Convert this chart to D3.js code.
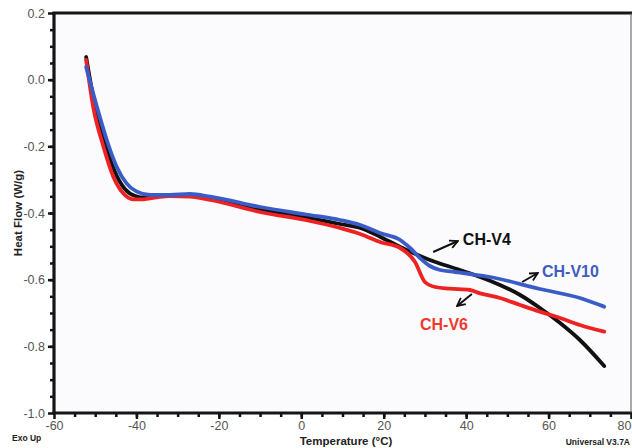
<!DOCTYPE html>
<html>
<head>
<meta charset="utf-8">
<script src="https://cdn.jsdelivr.net/npm/d3@7"></script>
<style>
  body { margin: 0; background: #fff; }
  svg { display: block; font-family: Arial, "Liberation Sans", sans-serif; }
</style>
</head>
<body>
<svg id="chart" width="632" height="448"></svg>
<script>
// temperatures (°C) and heat flow (W/g)
const tempV4 = [-52.2, -50.0, -47.6, -45.2, -42.8, -40.3, -37.9, -34.3, -31.9, -27.0, -22.0, -10.0, 2.1, 9.4, 14.3, 19.1, 24.0, 31.2, 38.5, 43.4, 48.2, 53.1, 57.9, 62.8, 67.6, 73.5];
const flowV4 = [0.068, -0.082, -0.190, -0.277, -0.328, -0.349, -0.354, -0.349, -0.346, -0.346, -0.355, -0.388, -0.415, -0.433, -0.445, -0.471, -0.502, -0.541, -0.571, -0.592, -0.616, -0.646, -0.685, -0.730, -0.781, -0.859];

const tempV6 = [-52.2, -50.5, -48.0, -45.6, -43.2, -40.8, -38.3, -35.1, -31.9, -27.0, -22.0, -10.0, 2.1, 9.4, 14.3, 19.1, 24.0, 27.6, 30.0, 32.5, 36.0, 40.9, 43.4, 48.2, 53.1, 57.9, 62.8, 67.6, 73.5];
const flowV6 = [0.059, -0.081, -0.201, -0.291, -0.341, -0.359, -0.359, -0.353, -0.349, -0.351, -0.361, -0.397, -0.424, -0.445, -0.463, -0.487, -0.505, -0.547, -0.607, -0.622, -0.627, -0.631, -0.641, -0.655, -0.676, -0.696, -0.715, -0.736, -0.756];

const tempV10 = [-52.2, -49.6, -47.2, -44.8, -42.4, -39.9, -36.7, -31.9, -27.0, -22.1, -10.0, 2.1, 9.4, 14.3, 19.1, 24.0, 26.4, 28.8, 31.2, 33.7, 37.3, 40.9, 45.8, 57.9, 67.6, 73.5];
const flowV10 = [0.038, -0.081, -0.181, -0.261, -0.311, -0.336, -0.346, -0.346, -0.343, -0.351, -0.382, -0.406, -0.421, -0.436, -0.460, -0.481, -0.505, -0.535, -0.559, -0.571, -0.577, -0.583, -0.592, -0.628, -0.655, -0.681];

const xTicks = [-60, -40, -20, 0, 20, 40, 60, 80];
const yTicks = [0.2, 0.0, -0.2, -0.4, -0.6, -0.8, -1.0];

// label text, text anchor point and arrow (tail -> head), in data units
const labelNames = ['CH-V4', 'CH-V10', 'CH-V6'];
const labelAt = [[39.2, -0.496], [58.4, -0.592], [28.8, -0.751]];
const arrowFrom = [[32.0, -0.517], [53.6, -0.607], [41.4, -0.643]];
const arrowTo = [[38.0, -0.484], [57.4, -0.580], [37.8, -0.679]];

const series = [
    {name: 'CH-V4', temp: tempV4, flow: flowV4, color: '#111111', text: '#111111'},
    {name: 'CH-V6', temp: tempV6, flow: flowV6, color: '#ee2222', text: '#ee3a2e'},
    {name: 'CH-V10', temp: tempV10, flow: flowV10, color: '#3a5cc8', text: '#3d5dbf'}
];
const drawOrder = ['CH-V4', 'CH-V6', 'CH-V10'];

const svg = d3.select('#chart');
const plot = {left: 54, right: 631, top: 13, bottom: 413};

const x = d3.scaleLinear().domain([-60, 80]).range([plot.left, plot.right]);
const y = d3.scaleLinear().domain([-1.0, 0.2]).range([plot.bottom, plot.top]);

svg.append('rect')
    .attr('x', plot.left).attr('y', plot.top)
    .attr('width', plot.right - plot.left).attr('height', plot.bottom - plot.top)
    .attr('fill', '#fbfbfd');

function styleAxis(g) {
    g.select('.domain').remove();
    g.selectAll('line').attr('stroke', '#111').attr('stroke-width', 2.5);
    g.selectAll('text').attr('fill', '#555').attr('font-size', 12.5)
        .attr('font-family', 'Arial, "Liberation Sans", sans-serif');
}

// minor ticks
svg.append('g')
    .attr('transform', `translate(0,${plot.bottom})`)
    .call(d3.axisBottom(x).tickValues(d3.range(-55, 80, 5)).tickSize(4).tickFormat(''))
    .call(styleAxis);

svg.append('g')
    .attr('transform', `translate(${plot.left},0)`)
    .call(d3.axisLeft(y).tickValues(d3.range(-19, 4).map(d => d * 0.05)).tickSize(4).tickFormat(''))
    .call(styleAxis);

// major ticks + labels
svg.append('g')
    .attr('transform', `translate(0,${plot.bottom})`)
    .call(d3.axisBottom(x).tickValues(xTicks).tickSize(6).tickPadding(2).tickFormat(d => String(d)))
    .call(styleAxis)
    .call(g => g.selectAll('.tick text').filter(d => d === 80).attr('text-anchor', 'end'));

svg.append('g')
    .attr('transform', `translate(${plot.left},0)`)
    .call(d3.axisLeft(y).tickValues(yTicks).tickSize(6).tickPadding(3).tickFormat(d => d.toFixed(1)))
    .call(styleAxis);

// frame
svg.append('path')
    .attr('d', `M${plot.left},${plot.bottom}V${plot.top}H${plot.right + 2}`)
    .attr('fill', 'none').attr('stroke', '#151515').attr('stroke-width', 3.2);
svg.append('line')
    .attr('x1', plot.left - 1.5).attr('x2', plot.right + 2)
    .attr('y1', plot.bottom).attr('y2', plot.bottom)
    .attr('stroke', '#151515').attr('stroke-width', 3.2);
svg.append('line')
    .attr('x1', plot.right).attr('x2', plot.right)
    .attr('y1', plot.top).attr('y2', plot.bottom)
    .attr('stroke', '#555').attr('stroke-width', 1);

// curves
const line = d3.line()
    .x(d => x(d[0]))
    .y(d => y(d[1]))
    .curve(d3.curveMonotoneX);

drawOrder.forEach(name => {
    const s = series.find(d => d.name === name);
    svg.append('path')
        .datum(d3.zip(s.temp, s.flow))
        .attr('fill', 'none')
        .attr('stroke', s.color)
        .attr('stroke-width', 3.8)
        .attr('stroke-linejoin', 'round')
        .attr('stroke-linecap', 'round')
        .attr('d', line);
});

// annotations
svg.append('defs').append('marker')
    .attr('id', 'head')
    .attr('viewBox', '0 0 10 10')
    .attr('refX', 9).attr('refY', 5)
    .attr('markerWidth', 5).attr('markerHeight', 5)
    .attr('markerUnits', 'strokeWidth')
    .attr('orient', 'auto')
  .append('path')
    .attr('d', 'M1,1L9,5L1,9')
    .attr('fill', 'none').attr('stroke', '#111').attr('stroke-width', 1.8);

labelNames.forEach((name, i) => {
    const s = series.find(d => d.name === name);
    svg.append('line')
        .attr('x1', x(arrowFrom[i][0])).attr('y1', y(arrowFrom[i][1]))
        .attr('x2', x(arrowTo[i][0])).attr('y2', y(arrowTo[i][1]))
        .attr('stroke', '#111').attr('stroke-width', 2)
        .attr('marker-end', 'url(#head)');
    svg.append('text')
        .attr('x', x(labelAt[i][0])).attr('y', y(labelAt[i][1]))
        .attr('fill', s.text)
        .attr('font-size', 16).attr('font-weight', 'bold')
        .text(name);
});

// axis titles
svg.append('text')
    .attr('transform', `translate(22,${(plot.top + plot.bottom) / 2}) rotate(-90)`)
    .attr('text-anchor', 'middle')
    .attr('font-size', 11.5).attr('font-weight', 'bold').attr('fill', '#222')
    .text('Heat Flow (W/g)');

svg.append('text')
    .attr('x', 346).attr('y', 445)
    .attr('text-anchor', 'middle')
    .attr('font-size', 11.5).attr('font-weight', 'bold').attr('fill', '#222')
    .text('Temperature (°C)');

svg.append('text')
    .attr('x', 12).attr('y', 441)
    .attr('font-size', 8.5).attr('font-weight', 'bold').attr('fill', '#222')
    .text('Exo Up');

svg.append('text')
    .attr('x', 630).attr('y', 445)
    .attr('text-anchor', 'end')
    .attr('font-size', 8.5).attr('font-weight', 'bold').attr('fill', '#222')
    .text('Universal V3.7A');
</script>
</body>
</html>
